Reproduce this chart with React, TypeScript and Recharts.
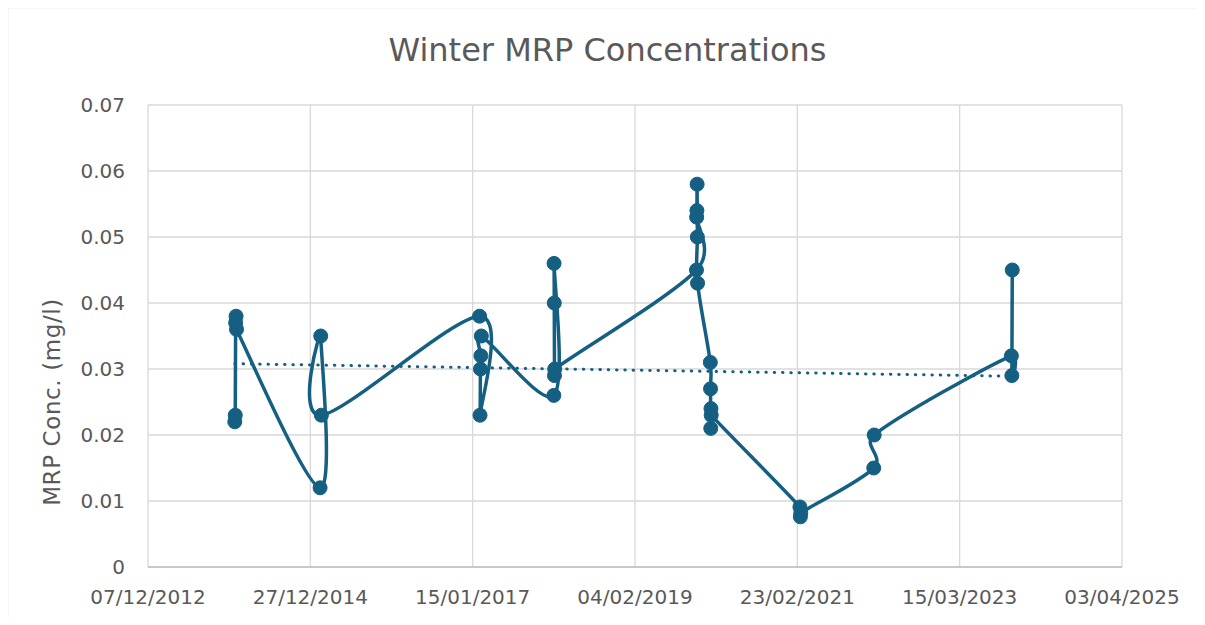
import React from 'react';
import { LineChart, Line, XAxis, YAxis, CartesianGrid } from 'recharts';

// ---- data ----
const sampleDates = [
  '2014-01-12', '2014-01-14', '2014-01-16', '2014-01-18', '2014-01-20',
  '2015-02-10', '2015-02-13', '2015-02-16',
  '2017-02-16', '2017-02-18', '2017-02-20', '2017-02-22', '2017-02-24',
  '2018-01-25', '2018-01-26', '2018-01-27', '2018-01-28', '2018-01-29',
  '2019-11-15', '2019-11-16', '2019-11-17', '2019-11-18', '2019-11-19', '2019-11-20',
  '2020-01-18', '2020-01-19', '2020-01-20', '2020-01-21', '2020-01-22',
  '2021-03-07', '2021-03-09', '2021-03-11',
  '2022-02-11', '2022-02-13',
  '2023-11-09', '2023-11-11', '2023-11-13',
];
const mrpValues = [
  0.022, 0.023, 0.037, 0.038, 0.036,
  0.012, 0.035, 0.023,
  0.038, 0.023, 0.030, 0.032, 0.035,
  0.026, 0.046, 0.040, 0.029, 0.030,
  0.045, 0.053, 0.054, 0.058, 0.050, 0.043,
  0.031, 0.027, 0.021, 0.024, 0.023,
  0.0091, 0.0076, 0.0082,
  0.015, 0.020,
  0.032, 0.029, 0.045,
];
const trendDates = ['2014-01-12', '2023-11-13'];
const trendValues = [0.0308, 0.0289];
const xTickDates = ['2012-12-07', '2014-12-27', '2017-01-15', '2019-02-04', '2021-02-23', '2023-03-15', '2025-04-03'];
const yTicks = [0, 0.01, 0.02, 0.03, 0.04, 0.05, 0.06, 0.07];

const TITLE = 'Winter MRP Concentrations';
const Y_LABEL = 'MRP Conc. (mg/l)';

// ---- helpers ----
const EXCEL_EPOCH = Date.UTC(1899, 11, 30);
const DAY = 86400000;
const toSerial = (iso: string) => {
  const [y, m, d] = iso.split('-').map(Number);
  return Math.round((Date.UTC(y, m - 1, d) - EXCEL_EPOCH) / DAY);
};
const pad = (n: number) => (n < 10 ? '0' + n : '' + n);
const fmtDate = (serial: number) => {
  const dt = new Date(EXCEL_EPOCH + serial * DAY);
  return `${pad(dt.getUTCDate())}/${pad(dt.getUTCMonth() + 1)}/${dt.getUTCFullYear()}`;
};
const fmtY = (v: number) => (v === 0 ? '0' : v.toFixed(2));

const series = sampleDates.map((d, i) => ({ x: toSerial(d), v: mrpValues[i] }));
const trend = trendDates.map((d, i) => ({ x: toSerial(d), v: trendValues[i] }));
const xTicks = xTickDates.map(toSerial);

// Excel-like smoothed line: Bezier with handles (p2-p0)/6, limited to half the segment
function excelSmooth(context: any) {
  let pts: number[][] = [];
  const clip = (hx: number, hy: number, max: number) => {
    const len = Math.hypot(hx, hy);
    if (len > max && len > 0) {
      const k = max / len;
      return [hx * k, hy * k];
    }
    return [hx, hy];
  };
  return {
    areaStart() {},
    areaEnd() {},
    lineStart() {
      pts = [];
    },
    point(x: number, y: number) {
      pts.push([+x, +y]);
    },
    lineEnd() {
      const n = pts.length;
      if (!n) return;
      context.moveTo(pts[0][0], pts[0][1]);
      for (let i = 0; i < n - 1; i++) {
        const p0 = pts[i - 1] || pts[i];
        const p1 = pts[i];
        const p2 = pts[i + 1];
        const p3 = pts[i + 2] || p2;
        const L = Math.hypot(p2[0] - p1[0], p2[1] - p1[1]);
        const h1 = clip((p2[0] - p0[0]) / 6, (p2[1] - p0[1]) / 6, L / 2);
        const h2 = clip((p3[0] - p1[0]) / 6, (p3[1] - p1[1]) / 6, L / 2);
        context.bezierCurveTo(
          p1[0] + h1[0],
          p1[1] + h1[1],
          p2[0] - h2[0],
          p2[1] - h2[1],
          p2[0],
          p2[1]
        );
      }
    },
  };
}

const FONT = '"DejaVu Sans", sans-serif';
const TEXT = '#595959';
const BLUE = '#156082';
const GRID = '#d9d9d9';

export default function App() {
  return (
    <div
      style={{
        position: 'relative',
        width: 1189,
        height: 609,
        background: '#fff',
        fontFamily: FONT,
      }}
    >
      <div style={{ position: 'absolute', left: 0, top: 0 }}>
        <LineChart
          width={1191}
          height={609}
          margin={{ top: 97, right: 77, bottom: 10, left: 40 }}
        >
          <CartesianGrid stroke={GRID} strokeWidth={1.3} />
          <XAxis
            type="number"
            dataKey="x"
            domain={[xTicks[0], xTicks[xTicks.length - 1]]}
            ticks={xTicks}
            interval={0}
            allowDataOverflow
            tickFormatter={fmtDate}
            height={40}
            tickLine={false}
            tickSize={6}
            tickMargin={17}
            axisLine={{ stroke: '#bfbfbf', strokeWidth: 1.3 }}
            tick={{ fontSize: 20, fill: TEXT, fontFamily: FONT }}
          />
          <YAxis
            type="number"
            domain={[0, 0.07]}
            ticks={yTicks}
            interval={0}
            allowDataOverflow
            tickFormatter={fmtY}
            width={100}
            tickLine={false}
            axisLine={false}
            tickSize={6}
            tickMargin={17}
            tick={{ fontSize: 20, fill: TEXT, fontFamily: FONT }}
          />
          <Line
            data={trend}
            dataKey="v"
            type="linear"
            stroke={BLUE}
            strokeWidth={3}
            strokeDasharray="0.5 7.8"
            strokeLinecap="round"
            dot={false}
            activeDot={false}
            isAnimationActive={false}
          />
          <Line
            data={series}
            dataKey="v"
            type={excelSmooth as any}
            stroke={BLUE}
            strokeWidth={3.5}
            dot={{ r: 7, fill: BLUE, stroke: BLUE, strokeWidth: 1 }}
            activeDot={false}
            isAnimationActive={false}
          />
        </LineChart>
      </div>
      <svg
        width={1205}
        height={625}
        style={{ position: 'absolute', left: -8, top: -8, pointerEvents: 'none' }}
      >
        <path
          d="M7.5 625 L7.5 7.5 L1199.5 7.5 L1199.5 625"
          fill="none"
          stroke="#d9d9d9"
          strokeWidth={1.5}
        />
        <text
          x={607.5}
          y={61}
          textAnchor="middle"
          fontSize={32}
          fill={TEXT}
          fontFamily={FONT}
        >
          {TITLE}
        </text>
        <text
          x={59.5}
          y={402}
          textAnchor="middle"
          fontSize={23}
          fill={TEXT}
          fontFamily={FONT}
          letterSpacing={0.6}
          transform="rotate(-90 59.5 402)"
        >
          {Y_LABEL}
        </text>
      </svg>
    </div>
  );
}
